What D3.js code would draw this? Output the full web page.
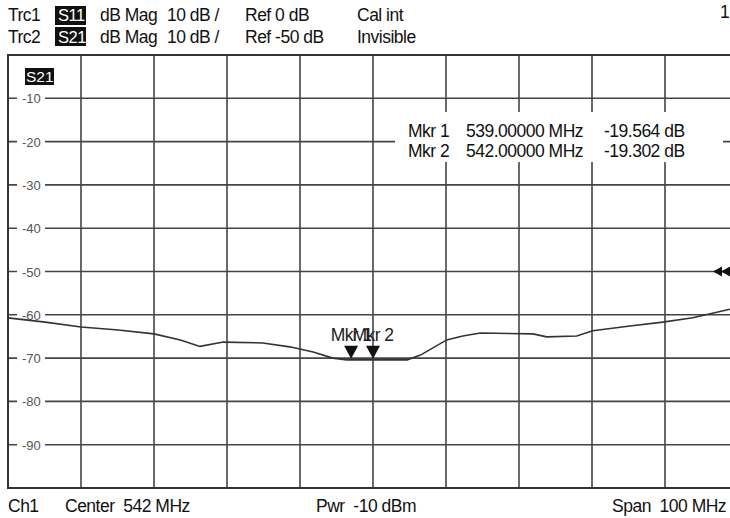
<!DOCTYPE html>
<html lang="en">
<head>
    <meta charset="UTF-8">
    <title>S21 trace</title>
    <script src="https://d3js.org/d3.v7.min.js"></script>
    <style>
        body { margin: 0; background: #fff; }
        svg { display: block; font-family: "Liberation Sans", Arial, sans-serif; }
        svg text { white-space: pre; }
     </style>
</head>
<body>
    <script>
        // trace (MHz, dB)
        const freqs = [492, 497.1, 502, 507.1, 512, 515.6, 518.3, 521.5, 526.9, 530.6, 533.8, 536.5,
                       538.4, 542, 546.7, 548.5, 552.1, 554.3, 556.7, 563.9, 565.8, 569.9, 572.1,
                       577.2, 581.7, 585.8, 590.9, 592];
        const s21 = [-60.7, -61.7, -62.8, -63.5, -64.4, -65.8, -67.3, -66.3, -66.5, -67.4, -68.6, -70.0,
                     -70.4, -70.4, -70.4, -69.3, -65.8, -64.9, -64.2, -64.4, -65.1, -64.9, -63.7,
                     -62.6, -61.7, -60.7, -58.7, -58.2];

        const markerNames = ["Mkr 1", "Mkr 2"];
        const markerFreqs = [539, 542];
        const markerDb = [-70.4, -70.4];
        const readFreq = ["539.00000 MHz", "542.00000 MHz"];
        const readVal = ["-19.564 dB", "-19.302 dB"];

        const yTicks = [-10, -20, -30, -40, -50, -60, -70, -80, -90];
        const xGrid = [502, 512, 522, 532, 542, 552, 562, 572, 582];
        const refLevel = -50;

        const w = 730;
        const h = 518;
        const plotL = 8, plotT = 55, plotB = 488, plotR = 738;
        const fs = 17.5;

        const xScale = d3.scaleLinear().domain([492, 592]).range([plotL, plotR]);
        const yScale = d3.scaleLinear().domain([-100, 0]).range([plotB, plotT]);

        const svg = d3.select("body")
                      .append("svg")
                      .attr("width", w)
                      .attr("height", h);

        // header lines
        const header = svg.append("g").attr("font-size", fs).attr("fill", "#111");
        const rows = [
            ["Trc1", "S11", "dB Mag", "10 dB /", "Ref 0 dB", "Cal int"],
            ["Trc2", "S21", "dB Mag", "10 dB /", "Ref -50 dB", "Invisible"]
        ];
        const colX = [8, 58, 100, 167, 245, 357];
        rows.forEach((r, i) => {
            const by = 21 + i * 22;
            header.append("rect").attr("x", 55).attr("y", by - 15 - (i ? 1 : 0))
                  .attr("width", 31).attr("height", 19).attr("fill", "#111");
            r.forEach((t, j) => {
                header.append("text").attr("x", colX[j]).attr("y", by)
                      .attr("fill", j === 1 ? "#fff" : "#111")
                      .attr("font-size", j === 1 ? 16.5 : fs)
                      .style("letter-spacing", "-0.5px")
                      .text(t);
            });
        });
        header.append("text").attr("x", 720).attr("y", 18).text("1");

        // grid
        const grid = svg.append("g").attr("stroke", "#444").attr("stroke-width", 1.6);
        grid.selectAll(".v").data(xGrid).enter().append("line")
            .attr("x1", d => xScale(d)).attr("x2", d => xScale(d))
            .attr("y1", plotT).attr("y2", plotB);
        grid.selectAll(".h").data(yTicks).enter().append("line")
            .attr("x1", plotL).attr("x2", plotR)
            .attr("y1", d => yScale(d)).attr("y2", d => yScale(d));
        svg.append("rect")
           .attr("x", plotL).attr("y", plotT)
           .attr("width", plotR - plotL).attr("height", plotB - plotT)
           .attr("fill", "none").attr("stroke", "#333").attr("stroke-width", 2);

        // y labels sit on a white patch over the grid line
        const yl = svg.append("g");
        yl.selectAll("rect").data(yTicks).enter().append("rect")
          .attr("x", 17).attr("y", d => yScale(d) - 7)
          .attr("width", 28).attr("height", 14).attr("fill", "#fff");
        yl.selectAll("text").data(yTicks).enter().append("text")
          .attr("x", 22).attr("y", d => yScale(d) + 5)
          .attr("font-size", 13).attr("fill", "#555")
          .text(d => d);

        // S21 tag
        svg.append("rect").attr("x", 25).attr("y", 68).attr("width", 29).attr("height", 17).attr("fill", "#111");
        svg.append("text").attr("x", 26).attr("y", 82).attr("font-size", 15.5).attr("fill", "#fff").text("S21");

        // marker readout box
        svg.append("rect").attr("x", 395).attr("y", 112).attr("width", 328).attr("height", 50).attr("fill", "#fff");
        const ro = svg.append("g").attr("font-size", fs).attr("fill", "#111").style("letter-spacing", "-0.5px");
        markerNames.forEach((m, i) => {
            const by = 137 + i * 20;
            ro.append("text").attr("x", 408).attr("y", by).text(m);
            ro.append("text").attr("x", 466).attr("y", by).text(readFreq[i]);
            ro.append("text").attr("x", 604).attr("y", by).text(readVal[i]);
        });

        // trace
        const line = d3.line()
                       .x((d, i) => xScale(freqs[i]))
                       .y(d => yScale(d));
        svg.append("path")
           .datum(s21)
           .attr("d", line)
           .attr("fill", "none")
           .attr("stroke", "#333")
           .attr("stroke-width", 1.6);

        // markers
        const mk = svg.append("g");
        markerFreqs.forEach((f, i) => {
            const mx = xScale(f), my = yScale(markerDb[i]);
            mk.append("path")
              .attr("d", `M${mx - 7},${my - 14}L${mx + 7},${my - 14}L${mx},${my - 1}Z`)
              .attr("fill", "#111");
            mk.append("text").attr("x", mx).attr("y", my - 19)
              .attr("text-anchor", "middle").attr("font-size", fs).attr("fill", "#222")
              .style("letter-spacing", "-0.6px")
              .text(markerNames[i]);
        });

        // reference level arrows at the right edge
        const ry = yScale(refLevel);
        [713, 721].forEach(ax => {
            svg.append("path")
               .attr("d", `M${ax},${ry}L${ax + 9},${ry - 5}L${ax + 9},${ry + 5}Z`)
               .attr("fill", "#111");
        });

        // footer
        const foot = svg.append("g").attr("font-size", fs).attr("fill", "#111").style("letter-spacing", "-0.5px");
        foot.append("text").attr("x", 8).attr("y", 512).text("Ch1");
        foot.append("text").attr("x", 65).attr("y", 512).text("Center  542 MHz");
        foot.append("text").attr("x", 316).attr("y", 512).text("Pwr  -10 dBm");
        foot.append("text").attr("x", 612).attr("y", 512).text("Span  100 MHz");
      </script>
</body>
</html>
